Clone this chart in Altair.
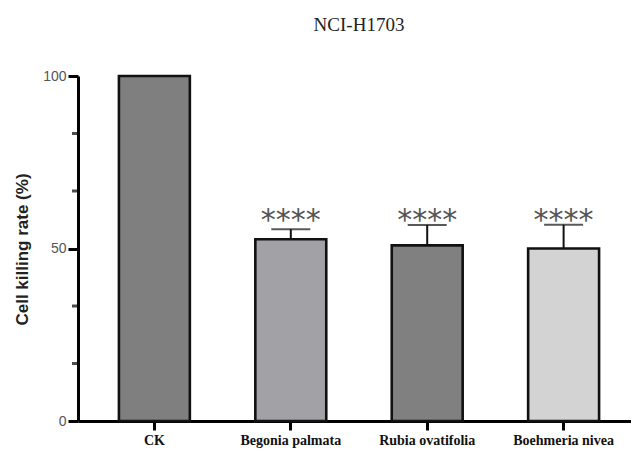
import altair as alt
import pandas as pd

groups = ["CK", "Begonia palmata", "Rubia ovatifolia", "Boehmeria nivea"]
means = [100.0, 52.7, 50.9, 50.0]
upper = [None, 55.6, 56.8, 56.9]
stars = ["", "****", "****", "****"]
colors = ["#7f7f7f", "#a2a2a6", "#808080", "#d3d3d3"]
major_ticks = [0, 50, 100]
minor_ticks = [16.67, 33.33, 66.67, 83.33]

df = pd.DataFrame({"group": groups, "mean": means, "upper": upper, "stars": stars})
err = df.dropna(subset=["upper"])
minor_df = pd.DataFrame({"v": minor_ticks})

x_scale = alt.Scale(domain=groups, paddingInner=0.48, paddingOuter=0.30)
y_scale = alt.Scale(domain=[0, 100], nice=False)

x_axis = alt.Axis(
    title=None,
    labelAngle=0,
    labelFont="Liberation Serif",
    labelFontWeight="bold",
    labelFontSize=14,
    labelColor="#111",
    labelPadding=3,
    labelBaseline="top",
    domainColor="#000",
    domainWidth=3,
    tickColor="#000",
    tickWidth=3,
    tickSize=9,
)
y_axis = alt.Axis(
    values=major_ticks,
    title="Cell killing rate (%)",
    titleFont="Liberation Sans",
    titleFontWeight="bold",
    titleFontSize=17,
    titleColor="#222",
    titleAngle=-90,
    titleX=-56,
    titleY=173,
    titleAlign="center",
    titleBaseline="middle",
    labelFont="Liberation Sans",
    labelFontSize=14,
    labelColor="#555",
    labelPadding=2,
    domainColor="#000",
    domainWidth=3,
    tickColor="#000",
    tickWidth=3,
    tickSize=10,
    grid=False,
)

bars = alt.Chart(df).mark_bar(stroke="#111", strokeWidth=2.6).encode(
    x=alt.X("group:N", sort=groups, scale=x_scale, axis=x_axis),
    y=alt.Y("mean:Q", scale=y_scale, axis=y_axis),
    fill=alt.Color("group:N", scale=alt.Scale(domain=groups, range=colors), legend=None),
)

err_rule = alt.Chart(err).mark_rule(color="#111", strokeWidth=2).encode(
    x=alt.X("group:N", sort=groups, scale=x_scale, axis=x_axis),
    y=alt.Y("mean:Q", scale=y_scale, axis=y_axis),
    y2="upper:Q",
)

caps = alt.Chart(err).mark_tick(color="#111", thickness=2, size=39).encode(
    x=alt.X("group:N", sort=groups, scale=x_scale, axis=x_axis),
    y=alt.Y("upper:Q", scale=y_scale, axis=y_axis),
)

star_text = alt.Chart(err).transform_joinaggregate(
    top="max(upper)"
).mark_text(
    font="DejaVu Sans", fontSize=30, color="#555", baseline="alphabetic", dy=5
).encode(
    x=alt.X("group:N", sort=groups, scale=x_scale, axis=x_axis),
    y=alt.Y("top:Q", scale=y_scale, axis=y_axis),
    text="stars:N",
)

minor = alt.Chart(minor_df).mark_tick(color="#000", thickness=3, size=6).encode(
    y=alt.Y("v:Q", scale=y_scale, axis=y_axis),
    x=alt.value(-3),
)

chart = alt.layer(err_rule, caps, bars, star_text, minor).properties(
    width=562,
    height=345,
    autosize=alt.AutoSizeParams(type="none"),
    padding={"left": 70, "top": 68, "right": -9, "bottom": 29},
    title=alt.TitleParams(
        "NCI-H1703",
        font="Liberation Serif",
        fontSize=19,
        fontWeight="normal",
        color="#222",
        anchor="middle",
        offset=34,
    ),
).configure_view(stroke=None)

chart.save("out.html", embed_options={"renderer": "svg", "actions": False})
